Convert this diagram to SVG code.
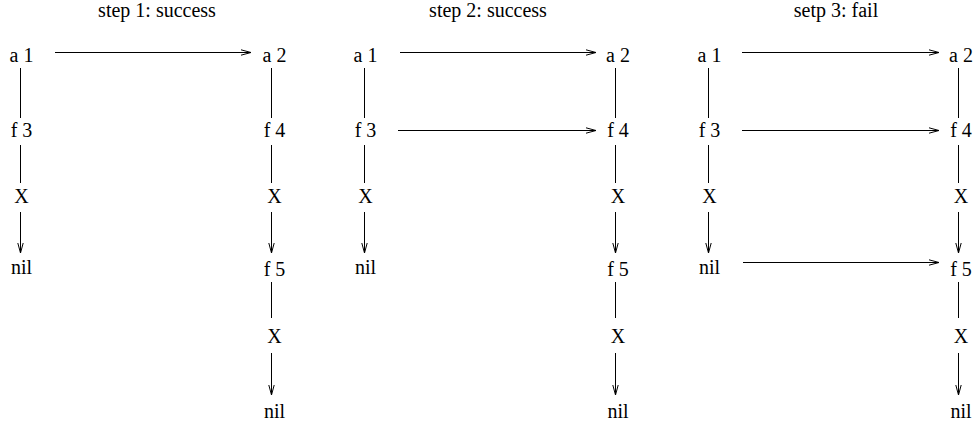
<svg xmlns="http://www.w3.org/2000/svg" width="976" height="426" viewBox="0 0 976 426">
<style>
text{font-family:"Liberation Serif","Times New Roman",Times,"DejaVu Serif",serif;font-size:20px;fill:#000;text-anchor:middle}
.c line{stroke:#000;stroke-width:1;fill:none}
.a{marker-end:url(#ah)}
</style>
<defs>
<marker id="ah" markerUnits="userSpaceOnUse" markerWidth="12" markerHeight="8" viewBox="0 0 12 8" refX="11" refY="4" orient="auto">
<path d="M1,1.3 L11,4 L1,6.7" fill="none" stroke="#000" stroke-width="1"/>
</marker>
</defs>
<rect width="976" height="426" fill="#fff"/>
<g id="titles">
<text x="157" y="17">step 1: success</text>
<text x="488" y="17">step 2: success</text>
<text x="836" y="17">setp 3: fail</text>
</g>
<!-- panel 1 -->
<g id="p1-a1"><text x="21.5" y="62">a 1</text></g>
<g id="p1-f3"><text x="21.5" y="137">f 3</text></g>
<g id="p1-x1"><text x="21.5" y="203">X</text></g>
<g id="p1-nil1"><text x="21.5" y="274">nil</text></g>
<g id="p1-a2"><text x="274.5" y="62">a 2</text></g>
<g id="p1-f4"><text x="274.5" y="137">f 4</text></g>
<g id="p1-x2"><text x="274.5" y="203">X</text></g>
<g id="p1-f5"><text x="274.5" y="276">f 5</text></g>
<g id="p1-x3"><text x="274.5" y="343">X</text></g>
<g id="p1-nil2"><text x="274.5" y="418">nil</text></g>
<!-- panel 2 -->
<g id="p2-a1"><text x="365.5" y="62">a 1</text></g>
<g id="p2-f3"><text x="365.5" y="137">f 3</text></g>
<g id="p2-x1"><text x="365.5" y="203">X</text></g>
<g id="p2-nil1"><text x="365.5" y="274">nil</text></g>
<g id="p2-a2"><text x="618" y="62">a 2</text></g>
<g id="p2-f4"><text x="618" y="137">f 4</text></g>
<g id="p2-x2"><text x="618" y="203">X</text></g>
<g id="p2-f5"><text x="618" y="276">f 5</text></g>
<g id="p2-x3"><text x="618" y="343">X</text></g>
<g id="p2-nil2"><text x="618" y="418">nil</text></g>
<!-- panel 3 -->
<g id="p3-a1"><text x="709.5" y="62">a 1</text></g>
<g id="p3-f3"><text x="709.5" y="137">f 3</text></g>
<g id="p3-x1"><text x="709.5" y="203">X</text></g>
<g id="p3-nil1"><text x="709.5" y="274">nil</text></g>
<g id="p3-a2"><text x="961" y="62">a 2</text></g>
<g id="p3-f4"><text x="961" y="137">f 4</text></g>
<g id="p3-x2"><text x="961" y="203">X</text></g>
<g id="p3-f5"><text x="961" y="276">f 5</text></g>
<g id="p3-x3"><text x="961" y="343">X</text></g>
<g id="p3-nil2"><text x="961" y="418">nil</text></g>
<g id="connectors" class="c">
<!-- panel 1 -->
<line x1="20.5" y1="68" x2="20.5" y2="118"/>
<line x1="20.5" y1="145" x2="20.5" y2="183"/>
<line class="a" x1="20.5" y1="212" x2="20.5" y2="253"/>
<line x1="271.5" y1="68" x2="271.5" y2="118"/>
<line x1="271.5" y1="145" x2="271.5" y2="183"/>
<line class="a" x1="271.5" y1="212" x2="271.5" y2="253"/>
<line x1="271.5" y1="282" x2="271.5" y2="318"/>
<line class="a" x1="271.5" y1="353" x2="271.5" y2="395"/>
<line class="a" x1="55" y1="52.5" x2="251" y2="52.5"/>
<!-- panel 2 -->
<line x1="364.5" y1="68" x2="364.5" y2="118"/>
<line x1="364.5" y1="145" x2="364.5" y2="183"/>
<line class="a" x1="364.5" y1="212" x2="364.5" y2="253"/>
<line x1="615.5" y1="68" x2="615.5" y2="118"/>
<line x1="615.5" y1="145" x2="615.5" y2="183"/>
<line class="a" x1="615.5" y1="212" x2="615.5" y2="253"/>
<line x1="615.5" y1="282" x2="615.5" y2="318"/>
<line class="a" x1="615.5" y1="353" x2="615.5" y2="395"/>
<line class="a" x1="400" y1="52.5" x2="596" y2="52.5"/>
<line class="a" x1="398" y1="130.5" x2="596" y2="130.5"/>
<!-- panel 3 -->
<line x1="708.5" y1="68" x2="708.5" y2="118"/>
<line x1="708.5" y1="145" x2="708.5" y2="183"/>
<line class="a" x1="708.5" y1="212" x2="708.5" y2="253"/>
<line x1="958.5" y1="68" x2="958.5" y2="118"/>
<line x1="958.5" y1="145" x2="958.5" y2="183"/>
<line class="a" x1="958.5" y1="212" x2="958.5" y2="253"/>
<line x1="958.5" y1="282" x2="958.5" y2="318"/>
<line class="a" x1="958.5" y1="353" x2="958.5" y2="395"/>
<line class="a" x1="742" y1="52.5" x2="939" y2="52.5"/>
<line class="a" x1="742" y1="130.5" x2="939" y2="130.5"/>
<line class="a" x1="743" y1="262.5" x2="939" y2="262.5"/>
</g>
</svg>
